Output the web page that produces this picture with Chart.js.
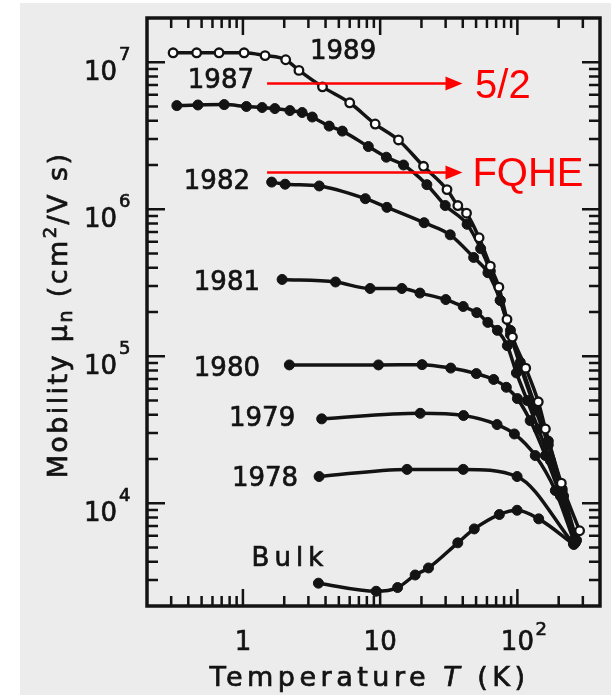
<!DOCTYPE html>
<html>
<head>
<meta charset="utf-8">
<script src="https://cdn.jsdelivr.net/npm/chart.js@4/dist/chart.umd.min.js"></script>
<style>
  body { margin: 0; background: #fff; }
  canvas { display: block; }
</style>
</head>
<body>
<canvas id="mobility" width="611" height="695"></canvas>
<script>
// temperature T (K) and mobility (cm2/Vs)
const t1989 = [0.31, 0.46, 0.67, 1.02, 1.45, 2.05, 2.56, 3.8, 6.0, 9.2, 13.6, 20.7, 30.7, 36.8, 42.6, 52.6, 63.5, 73.3, 84, 92, 115, 142, 160, 209, 284];
const mu1989 = [1.16e7, 1.16e7, 1.16e7, 1.16e7, 1.11e7, 1.04e7, 8.8e6, 6.8e6, 5.3e6, 3.8e6, 2.96e6, 1.96e6, 1.36e6, 1.06e6, 9.4e5, 6.4e5, 4.1e5, 2.95e5, 1.78e5, 1.35e5, 8.3e4, 4.9e4, 3.2e4, 1.37e4, 6.5e3];

const t1987 = [0.33, 0.47, 0.73, 1.06, 1.38, 1.71, 2.2, 2.7, 3.2, 4.25, 5.3, 8.2, 11.1, 14.8, 21.9, 29.8, 43, 54, 63.5, 75, 89, 105, 135, 168, 212, 270];
const mu1987 = [5.07e6, 5.12e6, 5.15e6, 5.0e6, 4.92e6, 4.84e6, 4.69e6, 4.55e6, 4.24e6, 3.68e6, 3.4e6, 2.67e6, 2.26e6, 2.0e6, 1.47e6, 1.06e6, 7.9e5, 5.4e5, 3.8e5, 2.4e5, 1.5e5, 9.1e4, 4.6e4, 2.65e4, 1.25e4, 5.6e3];

const t1982 = [1.62, 2.03, 3.6, 7.8, 11.2, 20.9, 32.4, 48, 61, 75, 89, 105, 136, 168, 212, 265];
const mu1982 = [1.53e6, 1.48e6, 1.44e6, 1.18e6, 1.03e6, 8.1e5, 6.7e5, 4.7e5, 3.7e5, 2.4e5, 1.4e5, 8.6e4, 4.3e4, 2.5e4, 1.2e4, 5.5e3];

const t1981 = [1.93, 4.73, 8.45, 14.4, 19.5, 30.1, 40.3, 50.6, 60.9, 71.5, 84.5, 98.4, 118, 142, 174, 217, 265];
const mu1981 = [3.33e5, 3.2e5, 2.89e5, 2.89e5, 2.69e5, 2.43e5, 2.18e5, 1.98e5, 1.7e5, 1.5e5, 1.18e5, 7.7e4, 5.0e4, 3.2e4, 1.95e4, 1.12e4, 5.4e3];

const t1980 = [2.18, 9.72, 20.2, 32.7, 50.2, 67.2, 83.1, 100, 124, 160, 206, 265];
const mu1980 = [8.73e4, 8.73e4, 8.77e4, 8.31e4, 7.62e4, 6.95e4, 6.15e4, 5.15e4, 3.65e4, 2.11e4, 1.12e4, 5.5e3];

const t1979 = [3.75, 19.6, 40.5, 71.1, 95.1, 135, 189, 257];
const mu1979 = [3.75e4, 4.09e4, 3.95e4, 3.43e4, 2.96e4, 2.11e4, 1.22e4, 5.6e3];

const t1978 = [3.59, 15.7, 40.3, 99.5, 256];
const mu1978 = [1.52e4, 1.70e4, 1.70e4, 1.52e4, 5.3e3];

const tBulk = [3.55, 9.35, 13.4, 18, 22.5, 36.8, 48.5, 73.9, 99.5, 143, 258];
const muBulk = [2.86e3, 2.52e3, 2.67e3, 3.25e3, 3.63e3, 5.38e3, 6.69e3, 8.38e3, 8.96e3, 7.83e3, 5.24e3];

// curve labels (anchored in data space)
const curveNames = ['1989', '1987', '1982', '1981', '1980', '1979', '1978', 'Bulk'];
const nameT = [5.37, 0.691, 0.646, 0.764, 0.764, 1.38, 1.45, 2.2];
const nameMu = [1.22e7, 7.74e6, 1.57e6, 3.27e5, 8.51e4, 3.89e4, 1.52e4, 4.34e3];

// red annotations
const arrowText = ['5/2', 'FQHE'];
const arrowMu = [7.16e6, 1.78e6];
const arrowFromT = 1.5;
const arrowToT = 39.8;
const arrowTextT = [49.2, 47];

// tick labels
const xTickVals = [1, 10, 100];
const xTickBase = ['1', '10', '10'];
const xTickExp = ['', '', '2'];
const yTickVals = [1e4, 1e5, 1e6, 1e7];
const yTickExp = ['4', '5', '6', '7'];

const INK = '#131313';

function series(ts, mus, open) {
    return {
        data: ts.map((t, i) => ({ x: t, y: mus[i] })),
        showLine: true,
        borderColor: INK,
        borderWidth: 3.5,
        cubicInterpolationMode: 'monotone',
        pointRadius: open ? 4.3 : 5,
        pointBackgroundColor: open ? '#fff' : INK,
        pointBorderColor: INK,
        pointBorderWidth: open ? 2.3 : 1
    };
}

// fill plus a hairline stroke, the scanned letters are a bit heavier than DejaVu
function inkText(ctx, text, x, y) {
    ctx.fillText(text, x, y);
    ctx.strokeText(text, x, y);
}

// draws text piece by piece so that sub/superscripts work
function drawPieces(ctx, pieces, x, y, spacing) {
    let cx = x;
    pieces.forEach(p => {
        ctx.font = p.font;
        ctx.letterSpacing = spacing + 'px';
        inkText(ctx, p.text, cx, y + (p.dy || 0));
        cx += ctx.measureText(p.text).width;
    });
    return cx - x;
}
function piecesWidth(ctx, pieces, spacing) {
    let w = 0;
    pieces.forEach(p => {
        ctx.font = p.font;
        ctx.letterSpacing = spacing + 'px';
        w += ctx.measureText(p.text).width;
    });
    return w;
}

const decor = {
    id: 'decor',
    beforeDraw(chart) {
        const ctx = chart.ctx;
        ctx.save();
        ctx.fillStyle = '#ececec';
        ctx.fillRect(20, 3, chart.width - 20, chart.height - 3);
        ctx.restore();
    },
    afterDatasetsDraw(chart) {
        const { ctx, chartArea: a, scales: { x, y } } = chart;
        ctx.save();
        ctx.strokeStyle = INK;
        ctx.fillStyle = INK;

        // frame
        ctx.lineWidth = 3.5;
        ctx.strokeRect(a.left, a.top, a.right - a.left, a.bottom - a.top);

        // inward ticks on all four sides
        ctx.lineWidth = 2.5;
        ctx.beginPath();
        for (let d = -1; d <= 2; d++) {
            for (let m = 1; m <= 9; m++) {
                const v = m * Math.pow(10, d);
                if (v <= x.min * 1.001 || v >= x.max * 0.999) continue;
                const px = x.getPixelForValue(v);
                const len = m === 1 ? 17 : 10;
                ctx.moveTo(px, a.bottom); ctx.lineTo(px, a.bottom - len);
                ctx.moveTo(px, a.top); ctx.lineTo(px, a.top + len);
            }
        }
        for (let d = 3; d <= 7; d++) {
            for (let m = 1; m <= 9; m++) {
                const v = m * Math.pow(10, d);
                if (v <= y.min * 1.001 || v >= y.max * 0.999) continue;
                const py = y.getPixelForValue(v);
                const len = m === 1 ? 18 : 11;
                ctx.moveTo(a.left, py); ctx.lineTo(a.left + len, py);
                ctx.moveTo(a.right, py); ctx.lineTo(a.right - len, py);
            }
        }
        ctx.stroke();

        ctx.lineWidth = 0.7;

        // y tick labels 10^n
        yTickVals.forEach((v, i) => {
            const py = y.getPixelForValue(v);
            ctx.letterSpacing = '0px';
            ctx.textAlign = 'right';
            ctx.font = '26px "DejaVu Sans"';
            inkText(ctx, '10', a.left - 30, py + 18);
            ctx.textAlign = 'left';
            ctx.font = '18px "DejaVu Sans"';
            inkText(ctx, yTickExp[i], a.left - 28, py - 2);
        });

        // x tick labels
        xTickVals.forEach((v, i) => {
            const px = x.getPixelForValue(v);
            ctx.letterSpacing = '0px';
            ctx.textAlign = 'center';
            ctx.font = '26px "DejaVu Sans"';
            inkText(ctx, xTickBase[i], px, a.bottom + 44);
            if (xTickExp[i]) {
                ctx.textAlign = 'left';
                ctx.font = '18px "DejaVu Sans"';
                inkText(ctx, xTickExp[i], px + 18, a.bottom + 29);
            }
        });

        // curve names
        ctx.textAlign = 'center';
        curveNames.forEach((name, i) => {
            ctx.font = '26px "DejaVu Sans"';
            ctx.letterSpacing = name === 'Bulk' ? '5px' : '0px';
            inkText(ctx, name, x.getPixelForValue(nameT[i]), y.getPixelForValue(nameMu[i]) + 9);
        });

        // x axis title
        ctx.textAlign = 'left';
        const xTitle = [
            { text: 'Temperature ', font: '27px "DejaVu Sans"' },
            { text: 'T', font: 'italic 27px "DejaVu Sans"' },
            { text: ' (K)', font: '27px "DejaVu Sans"' }
        ];
        const xw = piecesWidth(ctx, xTitle, 4.5);
        drawPieces(ctx, xTitle, (a.left + a.right) / 2 - 4 - xw / 2, a.bottom + 80, 4.5);

        // y axis title, rotated
        const yTitle = [
            { text: 'Mobility \u03bc', font: '27px "DejaVu Sans"' },
            { text: 'n', font: '19px "DejaVu Sans"', dy: 5 },
            { text: ' (cm', font: '27px "DejaVu Sans"' },
            { text: '2', font: '18px "DejaVu Sans"', dy: -11 },
            { text: '/V s)', font: '27px "DejaVu Sans"' }
        ];
        const yw = piecesWidth(ctx, yTitle, 2.4);
        ctx.save();
        ctx.translate(a.left - 80, (a.top + a.bottom) / 2 + 3 + yw / 2);
        ctx.rotate(-Math.PI / 2);
        drawPieces(ctx, yTitle, 0, 0, 2.4);
        ctx.restore();

        // red arrows and notes
        ctx.strokeStyle = '#ff0000';
        ctx.fillStyle = '#ff0000';
        ctx.letterSpacing = '0px';
        ctx.lineWidth = 2.5;
        arrowText.forEach((txt, i) => {
            const py = y.getPixelForValue(arrowMu[i]);
            const x1 = x.getPixelForValue(arrowFromT);
            const x2 = x.getPixelForValue(arrowToT);
            ctx.beginPath();
            ctx.moveTo(x1, py);
            ctx.lineTo(x2 - 12, py);
            ctx.stroke();
            ctx.beginPath();
            ctx.moveTo(x2, py);
            ctx.lineTo(x2 - 17, py - 7);
            ctx.lineTo(x2 - 17, py + 7);
            ctx.closePath();
            ctx.fill();
            ctx.font = '40px "Liberation Sans"';
            ctx.textAlign = 'left';
            ctx.fillText(txt, x.getPixelForValue(arrowTextT[i]), py + 14);
        });
        ctx.restore();
    }
};

new Chart(document.getElementById('mobility'), {
    type: 'scatter',
    data: {
        datasets: [
            series(t1989, mu1989, true),
            series(t1987, mu1987, false),
            series(t1982, mu1982, false),
            series(t1981, mu1981, false),
            series(t1980, mu1980, false),
            series(t1979, mu1979, false),
            series(t1978, mu1978, false),
            series(tBulk, muBulk, false)
        ]
    },
    options: {
        responsive: false,
        animation: false,
        layout: { padding: { left: 147, right: 11, top: 18, bottom: 89 } },
        scales: {
            x: { type: 'logarithmic', min: 0.2, max: 400, display: false },
            y: { type: 'logarithmic', min: 2000, max: 2e7, display: false }
        },
        plugins: {
            legend: { display: false },
            tooltip: { enabled: false }
        }
    },
    plugins: [decor]
});
</script>
</body>
</html>
